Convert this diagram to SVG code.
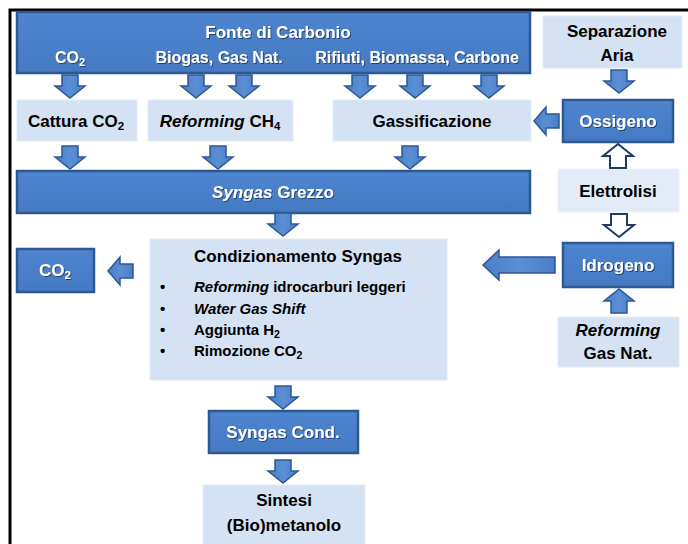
<svg xmlns="http://www.w3.org/2000/svg" xmlns:xlink="http://www.w3.org/1999/xlink" width="688" height="544" viewBox="0 0 688 544">
<defs>
<style>
.dk{fill:url(#gd);stroke:#2D5893;stroke-width:2.5}
.lt{fill:#D5E2F3;stroke:#E2EBF7;stroke-width:1}
.lt2{fill:#E3EBF6;stroke:#EDF2FA;stroke-width:1}
.t{font-family:"Liberation Sans",Arial,sans-serif;font-weight:bold;font-size:17px;text-anchor:middle}
.s{font-size:16px}
.l{font-family:"Liberation Sans",Arial,sans-serif;font-weight:bold;font-size:15px;fill:#000}
.w{fill:#fff;filter:url(#sh)}
.b{fill:#000}
.i{font-style:italic}
.arr{fill:url(#ga);stroke:#2D5893;stroke-width:1.5;stroke-linejoin:miter}
.open{fill:#fff;stroke:#1F3A66;stroke-width:2}
.frame{stroke:#000;stroke-width:3;fill:none}
</style>
<linearGradient id="gd" x1="0" y1="0" x2="0" y2="1">
<stop offset="0" stop-color="#4E85CF"/>
<stop offset="1" stop-color="#457AC3"/>
</linearGradient>
<linearGradient id="ga" x1="0" y1="0" x2="1" y2="0">
<stop offset="0" stop-color="#4A7EC6"/>
<stop offset="0.5" stop-color="#5A8FD6"/>
<stop offset="1" stop-color="#4A7EC6"/>
</linearGradient>
<filter id="sh" x="-10%" y="-30%" width="120%" height="160%">
<feDropShadow dx="1" dy="1" stdDeviation="0.6" flood-color="#1F3A66" flood-opacity="0.9"/>
</filter>
<path id="aD" d="M-8,0 H8 V11 H15 L0,23 L-15,11 H-8 Z"/>
<path id="aU" d="M-8,24 H8 V12 H15 L0,0 L-15,12 H-8 Z"/>
<path id="aL" d="M0,0 L12,-14 V-7 H25 V7 H12 V14 Z"/>
</defs>

<path class="frame" d="M10,544 V10 H688"/>

<g id="fonte">
<rect class="dk" x="17" y="12" width="513" height="61"/>
<text class="t w" x="278" y="38" font-size="17.5">Fonte di Carbonio</text>
<text class="t s w" x="70" y="63">CO<tspan font-size="11" dy="3">2</tspan></text>
<text class="t s w" x="219" y="63">Biogas, Gas Nat.</text>
<text class="t s w" x="417" y="63">Rifiuti, Biomassa, Carbone</text>
</g>

<g id="separazione">
<rect class="lt" x="543" y="16" width="139" height="52"/>
<text class="t b" x="617" y="37">Separazione</text>
<text class="t b" x="617" y="61">Aria</text>
</g>

<g id="cattura">
<rect class="lt" x="17" y="100" width="120" height="41"/>
<text class="t b" x="76" y="127">Cattura CO<tspan font-size="11.5" dy="3">2</tspan></text>
</g>

<g id="reforming_ch4">
<rect class="lt" x="148" y="100" width="145" height="41"/>
<text class="t b" x="220" y="127"><tspan class="i">Reforming</tspan> CH<tspan font-size="11.5" dy="3">4</tspan></text>
</g>

<g id="gassificazione">
<rect class="lt" x="333" y="100" width="198" height="41"/>
<text class="t b" x="432" y="127">Gassificazione</text>
</g>

<g id="ossigeno">
<rect class="dk" x="563" y="100" width="110" height="42"/>
<text class="t w" x="618" y="127">Ossigeno</text>
</g>

<g id="syngas_grezzo">
<rect class="dk" x="17" y="171" width="513" height="42"/>
<text class="t w" x="273" y="198"><tspan class="i">Syngas</tspan> Grezzo</text>
</g>

<g id="elettrolisi">
<rect class="lt2" x="558" y="169" width="121" height="43"/>
<text class="t b" x="618" y="197">Elettrolisi</text>
</g>

<g id="co2_out">
<rect class="dk" x="17" y="249" width="77" height="43"/>
<text class="t w" x="55" y="276">CO<tspan font-size="11.5" dy="3">2</tspan></text>
</g>

<g id="condizionamento">
<rect class="lt" x="150" y="239" width="297" height="141"/>
<text class="t b" x="298" y="262">Condizionamento Syngas</text>
<text class="l" x="160" y="292">•</text>
<text class="l" x="194" y="292"><tspan class="i">Reforming</tspan> idrocarburi leggeri</text>
<text class="l" x="160" y="314">•</text>
<text class="l i" x="194" y="314">Water Gas Shift</text>
<text class="l" x="160" y="335">•</text>
<text class="l" x="194" y="335">Aggiunta H<tspan font-size="10.5" dy="3">2</tspan></text>
<text class="l" x="160" y="356">•</text>
<text class="l" x="194" y="356">Rimozione CO<tspan font-size="10.5" dy="3">2</tspan></text>
</g>

<g id="idrogeno">
<rect class="dk" x="563" y="243" width="110" height="44"/>
<text class="t w" x="618" y="271">Idrogeno</text>
</g>

<g id="reforming_gas">
<rect class="lt" x="558" y="317" width="121" height="50"/>
<text class="t b i" x="618" y="336">Reforming</text>
<text class="t b" x="618" y="359">Gas Nat.</text>
</g>

<g id="syngas_cond">
<rect class="dk" x="209" y="411" width="149" height="42"/>
<text class="t w" x="283" y="438">Syngas Cond.</text>
</g>

<g id="sintesi">
<rect class="lt" x="203" y="485" width="162" height="62"/>
<text class="t b" x="284" y="506">Sintesi</text>
<text class="t b" x="284" y="531">(Bio)metanolo</text>
</g>

<g id="connectors">
<use xlink:href="#aD" class="arr" x="70" y="75"/>
<use xlink:href="#aD" class="arr" x="196" y="75"/>
<use xlink:href="#aD" class="arr" x="244" y="75"/>
<use xlink:href="#aD" class="arr" x="360" y="75"/>
<use xlink:href="#aD" class="arr" x="415" y="75"/>
<use xlink:href="#aD" class="arr" x="489" y="75"/>
<use xlink:href="#aD" class="arr" x="619" y="70"/>
<use xlink:href="#aL" class="arr" x="534" y="121"/>
<use xlink:href="#aD" class="arr" x="70" y="146"/>
<use xlink:href="#aD" class="arr" x="218" y="146"/>
<use xlink:href="#aD" class="arr" x="410" y="146"/>
<use xlink:href="#aU" class="open" x="618" y="144"/>
<use xlink:href="#aD" class="open" x="619" y="214"/>
<use xlink:href="#aD" class="arr" x="283" y="213"/>
<use xlink:href="#aL" class="arr" x="108" y="271"/>
<path class="arr" d="M483,265 L499,250 V257 H555 V273 H499 V280 Z"/>
<use xlink:href="#aU" class="arr" x="619" y="289"/>
<use xlink:href="#aD" class="arr" x="283" y="386"/>
<use xlink:href="#aD" class="arr" x="283" y="460"/>
</g>
</svg>
